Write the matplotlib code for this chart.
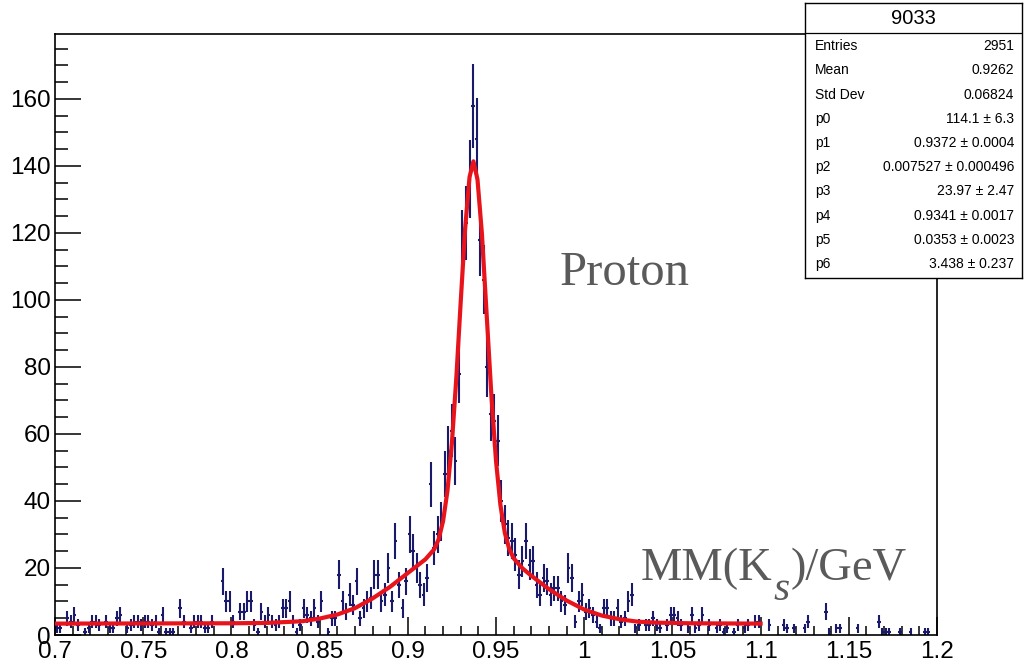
import numpy as np
import matplotlib
matplotlib.use("Agg")
from matplotlib import pyplot as plt
from matplotlib.ticker import MultipleLocator, FormatStrFormatter

# histogram binning (0.7 - 1.2 GeV, 250 bins)
x_lo, x_hi, n_bins = 0.7, 1.2, 250

# bin contents, 10 bins per row
counts = [
    2, 2, 0, 5, 4, 6, 3, 0, 1, 2,
    4, 4, 3, 0, 4, 2, 2, 5, 6, 0,
    2, 3, 4, 4, 3, 4, 4, 3, 4, 1,
    6, 1, 1, 1, 0, 8, 4, 0, 2, 4,
    4, 4, 2, 2, 4, 0, 0, 16, 10, 10,
    4, 0, 7, 7, 10, 10, 3, 1, 7, 4,
    6, 4, 3, 4, 8, 8, 10, 4, 1, 3,
    8, 6, 5, 8, 4, 10, 0, 1, 5, 5,
    18, 10, 7, 12, 9, 16, 5, 8, 10, 11,
    18, 18, 10, 12, 20, 10, 28, 15, 8, 16,
    30, 25, 20, 15, 12, 17, 45, 26, 30, 34,
    48, 55, 61, 52, 78, 116, 123, 136, 158, 148,
    118, 106, 80, 66, 64, 58, 40, 33, 29, 28,
    24, 18, 22, 28, 21, 22, 15, 12, 17, 16,
    12, 14, 14, 10, 9, 20, 17, 4, 10, 12,
    7, 8, 6, 4, 2, 8, 8, 5, 5, 8,
    4, 5, 10, 12, 2, 3, 0, 3, 3, 5,
    3, 2, 0, 3, 6, 6, 5, 3, 0, 2,
    6, 2, 3, 6, 0, 3, 0, 2, 3, 1,
    2, 0, 1, 3, 0, 2, 3, 0, 4, 4,
    0, 0, 3, 0, 0, 0, 3, 2, 0, 2,
    0, 0, 2, 4, 0, 0, 0, 0, 7, 1,
    0, 2, 2, 0, 0, 0, 0, 2, 0, 0,
    0, 0, 0, 4, 1, 1, 1, 0, 0, 1,
    0, 0, 1, 0, 0, 0, 1, 1, 0, 0,
]

# fitted curve
fit_x = [0.70, 0.80, 0.82, 0.84, 0.85, 0.86, 0.87, 0.88, 0.89, 0.90,
         0.91, 0.915, 0.9175, 0.92, 0.9225, 0.925, 0.9275, 0.93, 0.9325, 0.935,
         0.9372, 0.9395, 0.942, 0.945, 0.9475, 0.95, 0.9525, 0.955, 0.9575, 0.96,
         0.965, 0.97, 0.98, 0.99, 1.00, 1.01, 1.02, 1.03, 1.04, 1.06, 1.10]
fit_y = [3.4, 3.5, 3.6, 4.1, 4.9, 6.1, 8.0, 10.9, 14.4, 18.5,
         22.6, 25.6, 28.6, 34.0, 43.1, 57.3, 76.7, 99.5, 121.3, 136.7,
         141.4, 136.0, 119.9, 93.0, 70.5, 52.0, 38.8, 30.5, 25.7, 22.9,
         19.9, 17.7, 13.7, 10.3, 7.6, 5.8, 4.7, 4.0, 3.7, 3.5, 3.4]

# stats box
stats_title = "9033"
stats_names = ["Entries", "Mean", "Std Dev", "p0", "p1", "p2", "p3", "p4", "p5", "p6"]
stats_vals = ["2951", "0.9262", "0.06824", "114.1 \u00b1 6.3", "0.9372 \u00b1 0.0004",
              "0.007527 \u00b1 0.000496", "23.97 \u00b1 2.47", "0.9341 \u00b1 0.0017",
              "0.0353 \u00b1 0.0023", "3.438 \u00b1 0.237"]

plt.rcParams['font.family'] = ['Liberation Sans', 'DejaVu Sans']

W, H = 1024, 663
fig = plt.figure(figsize=(W / 100, H / 100), dpi=100)
ax = fig.add_axes([55 / W, 28 / H, 882 / W, 601 / H])

edges = np.linspace(x_lo, x_hi, n_bins + 1)
centers = 0.5 * (edges[1:] + edges[:-1])
c = np.array(counts, dtype=float)
m = c > 0
navy = '#1a1a6c'
ax.errorbar(centers[m], c[m], yerr=np.sqrt(c[m]), xerr=(x_hi - x_lo) / n_bins / 2,
            fmt='none', ecolor=navy, elinewidth=1.5, capsize=0, zorder=2)
ax.plot(fit_x, fit_y, color='#e8141c', lw=3.0, zorder=3)

ax.set_xlim(x_lo, x_hi)
ax.set_ylim(0, 179.4)
ax.xaxis.set_major_locator(MultipleLocator(0.05))
ax.xaxis.set_minor_locator(MultipleLocator(0.01))
ax.yaxis.set_major_locator(MultipleLocator(20))
ax.yaxis.set_minor_locator(MultipleLocator(5))
ax.xaxis.set_major_formatter(FormatStrFormatter('%g'))
ax.yaxis.set_major_formatter(FormatStrFormatter('%g'))
ax.tick_params(which='both', direction='in', top=False, right=False, width=1.1,
               labelsize=17.5, color='black')
ax.tick_params(axis='x', which='major', length=13, pad=4)
ax.tick_params(axis='x', which='minor', length=6.5)
ax.tick_params(axis='y', which='major', length=19, pad=3)
ax.tick_params(axis='y', which='minor', length=9.5)
for s in ax.spines.values():
    s.set_linewidth(1.2)

# overlay labels
gray = '#5a5a5a'
serif = 'Liberation Serif'
fig.text(560 / W, (H - 285) / H, "Proton", fontsize=35, color=gray,
         family=serif, va='baseline', ha='left')

# MM(K_s)/GeV built from three pieces so the subscript sits low like the original
fig.canvas.draw()
r = fig.canvas.get_renderer()
base_y = (H - 580) / H
t1 = fig.text(641 / W, base_y, "MM(K", fontsize=33.5, color=gray,
              family=serif, va='baseline', ha='left')
x1 = t1.get_window_extent(r).x1
t2 = fig.text((x1 + 1) / W, base_y - 20 / H, "s", fontsize=30, color=gray,
              family=serif, style='italic', va='baseline', ha='left')
x2 = t2.get_window_extent(r).x1
fig.text((x2 + 1) / W, base_y, ")/GeV", fontsize=33.5, color=gray,
         family=serif, va='baseline', ha='left')

# stats box
bx0, by0, bw, bh = 805, 278, 217, 275
sax = fig.add_axes([bx0 / W, (H - by0) / H, bw / W, bh / H])
sax.set_xlim(0, bw)
sax.set_ylim(bh, 0)
sax.set_xticks([])
sax.set_yticks([])
sax.set_facecolor('white')
for s in sax.spines.values():
    s.set_linewidth(1.0)
sax.axhline(30, color='black', lw=0.9)
sax.text(bw / 2, 16, stats_title, ha='center', va='center', fontsize=14.5)
row_y = [43, 67, 92, 116, 140, 164, 188, 213, 237, 261]
for name, val, ry in zip(stats_names, stats_vals, row_y):
    sax.text(10, ry, name, ha='left', va='center', fontsize=10)
    sax.text(bw - 8, ry, val, ha='right', va='center', fontsize=10)

fig.savefig("out.png", dpi=100)
